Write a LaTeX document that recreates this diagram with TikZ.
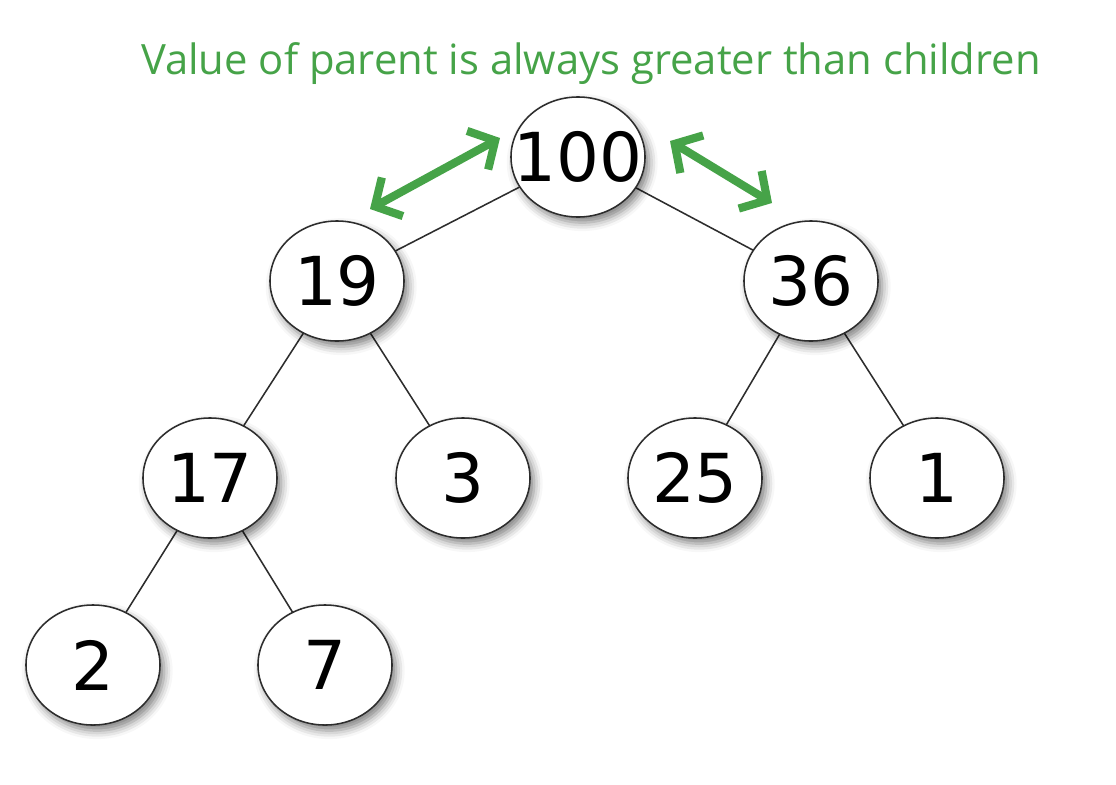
\documentclass[tikz,border=0pt]{standalone}
\usepackage{fontspec}
\setmainfont{DejaVu Sans}
\newfontfamily\titlefont{Open Sans}
\usepackage{tikz}
\usetikzlibrary{shapes.geometric}
\usetikzlibrary{arrows.meta,shadows.blur}
\definecolor{heapgreen}{RGB}{70,163,72}
\definecolor{edgegray}{RGB}{45,45,45}
\tikzset{
  heapnode/.style={ellipse,draw=edgegray,line width=1.1pt,fill=white,
    minimum width=3.35cm,minimum height=3cm,inner sep=0pt,
    font=\fontsize{48}{48}\selectfont,
    blur shadow={shadow xshift=3pt,shadow yshift=-4pt,shadow blur radius=6pt,shadow opacity=50}},
  treeedge/.style={draw=edgegray,line width=1.1pt},
  greenarrow/.style={heapgreen,line width=5.8pt,
    {Straight Barb[length=5mm,width=11mm]}-{Straight Barb[length=5mm,width=11mm]}}
}
\begin{document}
\begin{tikzpicture}[x=0.025cm,y=-0.025cm]
\useasboundingbox (0,0) rectangle (1116,784);
\node[heapgreen,font=\titlefont\fontsize{29.7}{30}\selectfont] at (591,64) (title) {Value of parent is always greater than children};

\draw[treeedge] (578,157) -- (337,281);
\draw[treeedge] (578,157) -- (811,281);
\draw[treeedge] (337,281) -- (210,478);
\draw[treeedge] (337,281) -- (463,478);
\draw[treeedge] (811,281) -- (695,478);
\draw[treeedge] (811,281) -- (937,478);
\draw[treeedge] (210,478) -- (93,665);
\draw[treeedge] (210,478) -- (325,665);

\node[heapnode] at (578,157) (n100) {\makebox[0pt]{100}};
\node[heapnode] at (337,281) (n19) {\makebox[0pt]{19}};
\node[heapnode] at (811,281) (n36) {\makebox[0pt]{36}};
\node[heapnode] at (210,478) (n17) {\makebox[0pt]{17}};
\node[heapnode] at (463,478) (n3) {\makebox[0pt]{3}};
\node[heapnode] at (695,478) (n25) {\makebox[0pt]{25}};
\node[heapnode] at (937,478) (n1) {\makebox[0pt]{1}};
\node[heapnode] at (93,665) (n2) {\makebox[0pt]{2}};
\node[heapnode] at (325,665) (n7) {\makebox[0pt]{7}};

\coordinate (la) at (370,209);
\coordinate (lb) at (500,138);
\coordinate (ra) at (670,141);
\coordinate (rb) at (772,203);
\draw[greenarrow] (la) -- (lb);
\draw[greenarrow] (ra) -- (rb);
\end{tikzpicture}
\end{document}
